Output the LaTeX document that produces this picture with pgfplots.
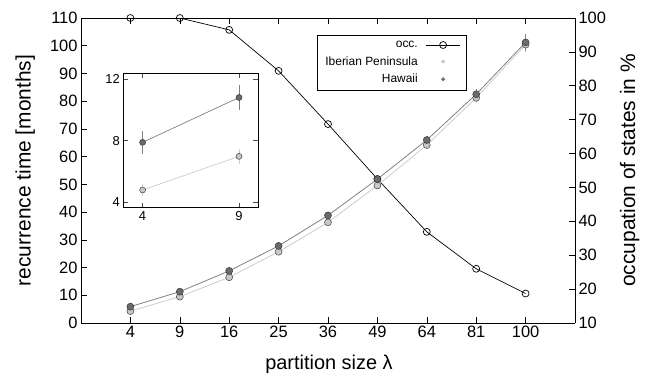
\documentclass[border=0pt]{standalone}
\usepackage{fontspec}
\setmainfont{Liberation Sans}
\usepackage{pgfplots}
\pgfplotsset{compat=1.18}
\definecolor{hawaiifill}{gray}{0.42}
\definecolor{hawaiiline}{gray}{0.5}
\definecolor{iberfill}{gray}{0.78}
\definecolor{iberline}{gray}{0.8}
\begin{document}
\begin{tikzpicture}
\pgfplotsset{
  every axis/.append style={
    /pgf/number format/assume math mode=true,
    tick label style={font=\fontsize{16.5}{18}\selectfont},
    tick align=inside,
    major tick length=6bp,
    axis line style={line width=0.9pt},
    every tick/.style={black,line width=0.6pt},
  }
}
% right axis: occupation
\begin{axis}[
  at={(0,0)}, anchor=south west,
  scale only axis, width=494bp, height=305bp,
  xmin=-1, xmax=9,
  ymin=10, ymax=100,
  axis y line*=right,
  axis x line=none,
  ytick={10,20,...,100},
  ylabel={occupation of states in \%},
  every axis y label/.style={at={(axis description cs:1.111,0.5)}, rotate=90, anchor=center,
    font=\fontsize{21}{24}\selectfont},
  legend style={at={(axis description cs:0.478,0.945)}, anchor=north west, draw=black, line width=0.6pt,
    font=\fontsize{12}{14}\selectfont, cells={anchor=east},
    row sep=3.5pt, inner xsep=6pt, inner ysep=4pt,
    /tikz/every odd column/.append style={column sep=6pt}},
  legend cell align=right,
  legend plot pos=right,
]
\addplot[black, line width=0.7pt, mark=o, mark size=3.5pt, mark options={line width=0.7pt}, forget plot]
  coordinates {(0,100) (1,100) (2,96.5) (3,84.4) (4,68.7) (5,52.5) (6,36.9) (7,26.0) (8,18.7)};
\addlegendimage{legend image code/.code={\draw[black, line width=0.7pt] (0bp,0bp) -- (34bp,0bp); \draw[black, line width=0.7pt] (17bp,0bp) circle (3.5pt);}}
\addlegendentry{occ.}
\addlegendimage{legend image code/.code={\fill[iberfill] (17bp,0bp) circle (1.6pt);}}
\addlegendentry{Iberian Peninsula}
\addlegendimage{legend image code/.code={\fill[hawaiifill] (17bp,0bp) circle (1.6pt);}}
\addlegendentry{Hawaii}
\end{axis}
% left axis: recurrence time
\begin{axis}[
  at={(0,0)}, anchor=south west,
  scale only axis, width=494bp, height=305bp,
  xmin=-1, xmax=9,
  ymin=0, ymax=110,
  axis y line*=left,
  axis x line*=box,
  xtick={0,...,8},
  xticklabels={4,9,16,25,36,49,64,81,100},
  ytick={0,10,...,110},
  ylabel={recurrence time [months]},
  every axis y label/.style={at={(axis description cs:-0.113,0.5)}, rotate=90, anchor=center,
    font=\fontsize{21}{24}\selectfont},
  xlabel={partition size λ},
  every axis x label/.style={at={(axis description cs:0.502,-0.135)}, anchor=center,
    font=\fontsize{20}{22}\selectfont},
  x axis line style={line width=0.9pt},
]
\addplot[iberline, line width=0.8pt, mark=*, mark size=3.5pt,
  mark options={fill=iberfill, draw=black!75, line width=0.5pt},
  error bars/.cd, y dir=both, y explicit, error bar style={iberline}, error mark=none]
  coordinates {(0,4.3)+-(0,0.6) (1,9.5)+-(0,0.6) (2,16.5)+-(0,0.8) (3,25.7)+-(0,0.9) (4,36.3)+-(0,1) (5,49.6)+-(0,1.2) (6,64.2)+-(0,1.4) (7,81.2)+-(0,1.8) (8,100.4)+-(0,2.5)};
\addplot[hawaiiline, line width=0.8pt, mark=*, mark size=3.5pt,
  mark options={fill=hawaiifill, draw=black!80, line width=0.5pt},
  error bars/.cd, y dir=both, y explicit, error bar style={hawaiiline}, error mark=none]
  coordinates {(0,5.9)+-(0,0.8) (1,11.3)+-(0,0.8) (2,18.8)+-(0,1) (3,27.8)+-(0,1) (4,38.8)+-(0,1.2) (5,51.9)+-(0,1.4) (6,66.0)+-(0,1.6) (7,82.5)+-(0,2) (8,101.2)+-(0,3)};
\end{axis}
% inset
\begin{axis}[
  at={(42.3bp,115.3bp)}, anchor=south west,
  scale only axis, width=135bp, height=134.4bp,
  xmin=3, xmax=10, ymin=3.65, ymax=12.37,
  xtick={4,9}, ytick={4,8,12},
  tick label style={font=\fontsize{13}{15}\selectfont},
  axis background/.style={fill=white},
  axis line style={line width=0.9pt},
  every tick/.style={black!70,line width=0.6pt},
  major tick length=5bp,
]
\addplot[iberline, line width=0.7pt, mark=*, mark size=3pt,
  mark options={fill=iberfill, draw=black!75, line width=0.5pt},
  error bars/.cd, y dir=both, y explicit, error bar style={iberline}, error mark=none]
  coordinates {(4,4.8)+-(0,0.4) (9,6.98)+-(0,0.5)};
\addplot[hawaiiline, line width=0.7pt, mark=*, mark size=3pt,
  mark options={fill=hawaiifill, draw=black!80, line width=0.5pt},
  error bars/.cd, y dir=both, y explicit, error bar style={hawaiiline}, error mark=none]
  coordinates {(4,7.89)+-(0,0.75) (9,10.8)+-(0,0.8)};
\end{axis}
\pgfresetboundingbox
\path (-81bp,-51bp) rectangle (570bp,323bp);
\end{tikzpicture}
\end{document}
